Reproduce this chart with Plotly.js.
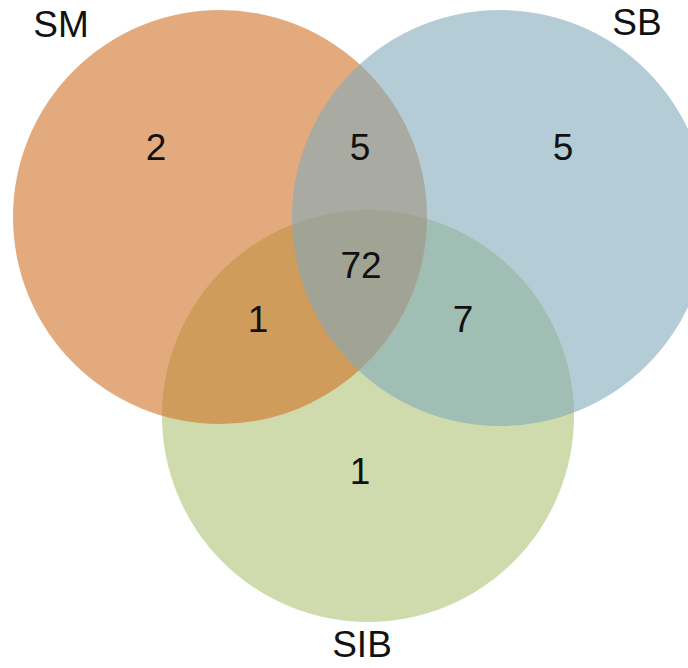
<!DOCTYPE html>
<html>
<head>
<meta charset="utf-8">
<script src="https://cdn.plot.ly/plotly-3.0.1.min.js"></script>
<style>html,body{margin:0;padding:0;background:#fff;}#chart{width:688px;height:668px;}</style>
</head>
<body>
<div id="chart"></div>
<script>
// Set names and region counts
var setNames = ['SM', 'SB', 'SIB'];
var regionNames = ['SM only', 'SM∩SB', 'SB only', 'SM∩SB∩SIB', 'SM∩SIB', 'SB∩SIB', 'SIB only'];
var regionCounts = [2, 5, 5, 72, 1, 7, 1];

// Layout geometry (pixel-space coordinates on hidden axes)
var circleX = [220, 500, 368];
var circleY = [217, 218, 416];
var circleR = [207, 208, 206];
var circleColors = ['rgb(208,113,38)', 'rgb(130,170,185)', 'rgb(175,195,117)'];
var drawOrder = [2, 0, 1]; // SIB bottom, SM, SB on top
var setLabelX = [61, 637, 362];
var setLabelY = [28, 26, 648];
var regionX = [156, 360, 563, 361, 258, 463, 360];
var regionY = [151, 151, 151, 269, 323, 323, 475];

var shapes = drawOrder.map(function (i) {
  return {
    type: 'circle', xref: 'x', yref: 'y',
    x0: circleX[i] - circleR[i], x1: circleX[i] + circleR[i],
    y0: circleY[i] - circleR[i], y1: circleY[i] + circleR[i],
    fillcolor: circleColors[i], opacity: 0.6,
    line: {width: 0}, layer: 'below'
  };
});

var font = {family: '"Liberation Sans", Arial, sans-serif', size: 37, color: '#111'};

var traces = [
  {
    type: 'scatter', mode: 'text',
    x: regionX, y: regionY,
    text: regionCounts.map(String),
    customdata: regionNames,
    textposition: 'middle center',
    textfont: font,
    hoverinfo: 'none', showlegend: false
  },
  {
    type: 'scatter', mode: 'text',
    x: setLabelX, y: setLabelY,
    text: setNames,
    textposition: 'middle center',
    textfont: font,
    hoverinfo: 'none', showlegend: false
  }
];

var layout = {
  width: 688, height: 668,
  margin: {l: 0, r: 0, t: 0, b: 0},
  paper_bgcolor: '#fff', plot_bgcolor: '#fff',
  xaxis: {range: [0, 688], visible: false, fixedrange: true},
  yaxis: {range: [668, 0], visible: false, fixedrange: true},
  shapes: shapes,
  showlegend: false
};

Plotly.newPlot('chart', traces, layout, {displayModeBar: false, staticPlot: true});
</script>
</body>
</html>
